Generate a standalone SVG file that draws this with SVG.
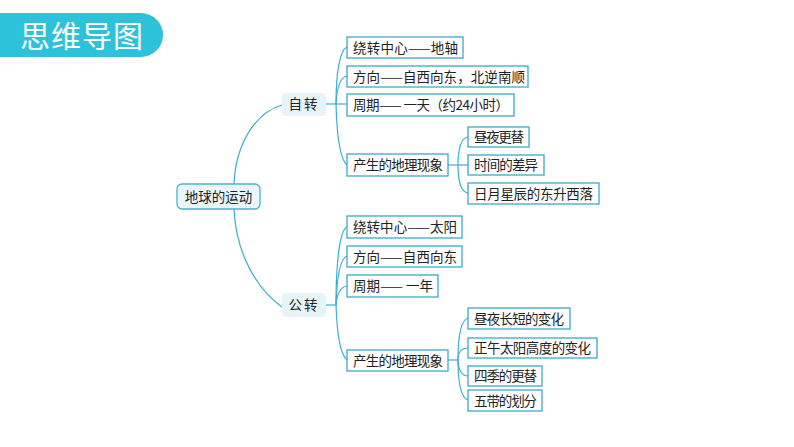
<svg xmlns="http://www.w3.org/2000/svg" width="794" height="447" viewBox="0 0 794 447">
<style>
.box{fill:#fff;stroke:#3ea9c7;stroke-width:1.3}
.t{font-family:"Noto Sans CJK SC","Liberation Sans",sans-serif;font-size:13.5px;fill:#222}
.c{fill:none;stroke:#3ab0cc;stroke-width:1.2}
.br{fill:#e6f3f9}
</style>
<rect width="794" height="447" fill="#fff"/>
<g id="title">
<path d="M0,13 H141 A22,22 0 0 1 141,57 H0 Z" fill="#2ec1da"/>
<text x="82" y="47" text-anchor="middle" font-family="Noto Sans CJK SC, sans-serif" font-size="30" fill="#fff" letter-spacing="1">思维导图</text>
</g>
<g id="connectors">
<path class="c" d="M234,184 C236,140 258,112 282,105"/>
<path class="c" d="M234,209 C236,255 258,290 282,307"/>
<path class="c" d="M326,104 H336"/>
<path class="c" d="M336,104 C336,72 340,50 347,47"/>
<path class="c" d="M336,104 C337,86 341,77 347,76"/>
<path class="c" d="M336,104 H347"/>
<path class="c" d="M336,104 C337,140 341,160 347,165"/>
<path class="c" d="M448,165 H458"/>
<path class="c" d="M458,165 C458,146 462,138 468,137"/>
<path class="c" d="M458,165 H468"/>
<path class="c" d="M458,165 C458,184 462,192 468,193"/>
<path class="c" d="M326,305 H336"/>
<path class="c" d="M336,305 C336,260 340,230 347,227"/>
<path class="c" d="M336,305 C337,275 341,258 347,256"/>
<path class="c" d="M336,305 C337,293 341,287 347,286"/>
<path class="c" d="M336,305 C337,335 341,355 347,360"/>
<path class="c" d="M448,360 H458"/>
<path class="c" d="M458,360 C458,330 462,320 468,318"/>
<path class="c" d="M458,360 C458,352 462,348 468,348"/>
<path class="c" d="M458,360 C458,370 462,376 468,376"/>
<path class="c" d="M458,360 C458,385 462,398 468,400"/>
</g>
<g id="root">
<rect x="177" y="184" width="83" height="25" rx="5" fill="#eaf6fb" stroke="#4cb2cf" stroke-width="1.3"/>
<text class="t" x="218.5" y="201.5" text-anchor="middle" font-size="14">地球的运动</text>
</g>
<g id="zizhuan">
<rect class="br" x="282" y="93" width="44" height="23" rx="4"/>
<text class="t" x="304" y="109" text-anchor="middle" letter-spacing="2">自转</text>
</g>
<g id="gongzhuan">
<rect class="br" x="282" y="293" width="44" height="24" rx="4"/>
<text class="t" x="304" y="310" text-anchor="middle" letter-spacing="2">公转</text>
</g>
<g id="z1"><rect class="box" x="347" y="37" width="116" height="21"/><text class="t" x="353" y="52.5" textLength="105">绕转中心——地轴</text></g>
<g id="z2"><rect class="box" x="347" y="66" width="181" height="21"/><text class="t" x="353" y="81.5" textLength="172">方向——自西向东，北逆南顺</text></g>
<g id="z3"><rect class="box" x="347" y="94" width="167" height="22"/><text class="t" x="353" y="110" textLength="156">周期—— 一天（约24小时）</text></g>
<g id="z4"><rect class="box" x="347" y="154" width="101" height="22"/><text class="t" x="353" y="170" textLength="90">产生的地理现象</text></g>
<g id="z41"><rect class="box" x="468" y="127" width="61" height="20"/><text class="t" x="474" y="142" textLength="50">昼夜更替</text></g>
<g id="z42"><rect class="box" x="468" y="155" width="76" height="20"/><text class="t" x="474" y="170" textLength="64">时间的差异</text></g>
<g id="z43"><rect class="box" x="468" y="183" width="131" height="21"/><text class="t" x="474" y="198.5" textLength="119">日月星辰的东升西落</text></g>
<g id="g1"><rect class="box" x="347" y="216" width="115" height="22"/><text class="t" x="353" y="232" textLength="104">绕转中心——太阳</text></g>
<g id="g2"><rect class="box" x="347" y="246" width="115" height="21"/><text class="t" x="353" y="261.5" textLength="104">方向——自西向东</text></g>
<g id="g3"><rect class="box" x="347" y="275" width="91" height="22"/><text class="t" x="353" y="291" textLength="80">周期—— 一年</text></g>
<g id="g4"><rect class="box" x="347" y="350" width="101" height="21"/><text class="t" x="353" y="365.5" textLength="90">产生的地理现象</text></g>
<g id="g41"><rect class="box" x="468" y="308" width="102" height="21"/><text class="t" x="474" y="323.5" textLength="90">昼夜长短的变化</text></g>
<g id="g42"><rect class="box" x="468" y="338" width="129" height="20"/><text class="t" x="474" y="353" textLength="117">正午太阳高度的变化</text></g>
<g id="g43"><rect class="box" x="468" y="366" width="74" height="20"/><text class="t" x="474" y="381" textLength="63">四季的更替</text></g>
<g id="g44"><rect class="box" x="468" y="390" width="74" height="21"/><text class="t" x="474" y="405.5" textLength="63">五带的划分</text></g>
</svg>
